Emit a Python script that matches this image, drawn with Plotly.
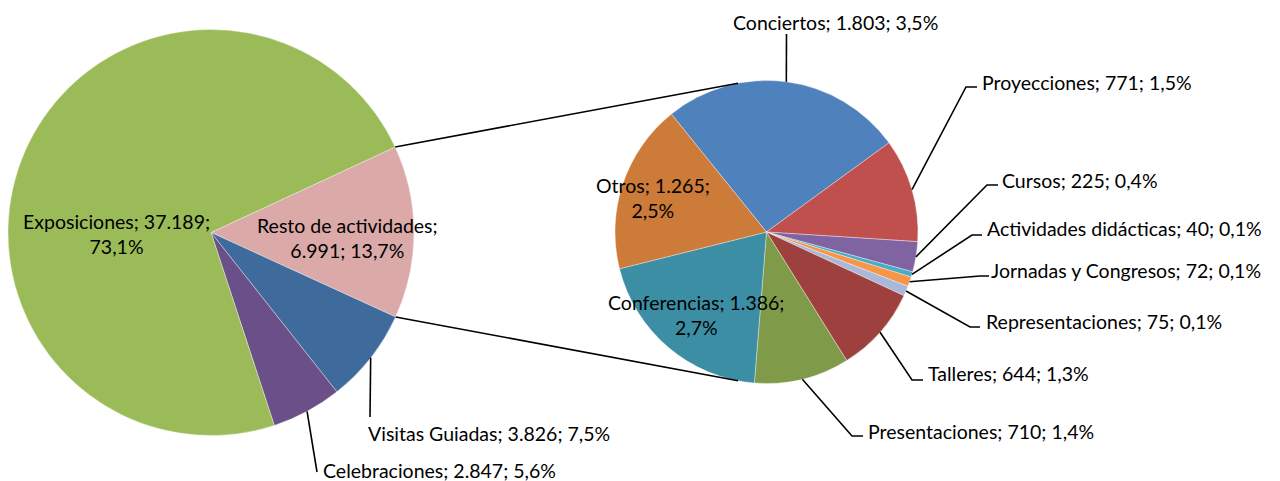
import math
import plotly.graph_objects as go

W, H = 1280, 481
OFF_X, OFF_Y = 8, 8  # page body margin in the browser

# ---------------- data ----------------
main_labels = ["Resto de actividades", "Visitas Guiadas", "Celebraciones", "Exposiciones"]
main_values = [6991, 3826, 2847, 37189]
main_pct = ["13,7%", "7,5%", "5,6%", "73,1%"]
main_colors = ["#DAA9A8", "#3E6A9C", "#6A4F89", "#9BBB59"]

sub_labels = ["Conciertos", "Proyecciones", "Cursos", "Actividades didácticas",
              "Jornadas y Congresos", "Representaciones", "Talleres",
              "Presentaciones", "Conferencias", "Otros"]
sub_values = [1803, 771, 225, 40, 72, 75, 644, 710, 1386, 1265]
sub_pct = ["3,5%", "1,5%", "0,4%", "0,1%", "0,1%", "0,1%", "1,3%", "1,4%", "2,7%", "2,5%"]
sub_colors = ["#4F81BD", "#C0504D", "#8064A2", "#4BACC6", "#F79646",
              "#A9B8D8", "#9E413E", "#7F9A48", "#3C8EA5", "#CC7B38"]

# ---------------- geometry (screen pixels) ----------------
L_CX, L_CY, L_R, L_ROT = 211, 232.5, 203, 65.1
R_CX, R_CY, R_R, R_ROT = 766.5, 232, 151.5, -38.9
CONNECT_OFF = 10.8  # degrees from vertical where connectors meet the second pie

FONT = "Lato"
FS = 19.5


def px(x, y):
    return (x - OFF_X) / W, 1 - (y - OFF_Y) / H


def domain(cx, cy, r):
    x0, y1 = px(cx - r, cy - r)
    x1, y0 = px(cx + r, cy + r)
    return dict(x=[x0, x1], y=[y0, y1])


def pt(cx, cy, r, ang):
    a = math.radians(ang)
    return cx + r * math.sin(a), cy - r * math.cos(a)


def slice_angles(values, rot):
    tot = sum(values)
    out = []
    cur = rot
    for v in values:
        span = v / tot * 360
        out.append((cur, cur + span, cur + span / 2))
        cur += span
    return out


def fmt(v):
    return f"{v:,}".replace(",", ".")


fig = go.Figure()
fig.add_trace(go.Pie(
    labels=main_labels, values=main_values, sort=False, direction="clockwise",
    rotation=L_ROT, textinfo="none", hoverinfo="label+value+percent",
    marker=dict(colors=main_colors, line=dict(color="rgba(255,255,255,0.6)", width=0.6)),
    domain=domain(L_CX, L_CY, L_R), showlegend=False,
))
fig.add_trace(go.Pie(
    labels=sub_labels, values=sub_values, sort=False, direction="clockwise",
    rotation=R_ROT, textinfo="none", hoverinfo="label+value+percent",
    marker=dict(colors=sub_colors, line=dict(color="rgba(255,255,255,0.6)", width=0.6)),
    domain=domain(R_CX, R_CY, R_R), showlegend=False,
))

shapes = []
annotations = []


def line_path(points):
    p = [px(x, y) for x, y in points]
    d = "M " + " L ".join(f"{x:.5f},{y:.5f}" for x, y in p)
    return dict(type="path", path=d, xref="paper", yref="paper",
                line=dict(color="black", width=1.6))


def add_text(text, x, y, anchor):
    xx, yy = px(x, y)
    annotations.append(dict(text=text, x=xx, y=yy, xref="paper", yref="paper",
                            xanchor=anchor, yanchor="middle", showarrow=False,
                            align="center", font=dict(family=FONT, size=FS, color="black")))


# connectors between pies
main_ang = slice_angles(main_values, L_ROT)
sub_ang = slice_angles(sub_values, R_ROT)
resto_start, resto_end, _ = main_ang[0]
shapes.append(line_path([pt(L_CX, L_CY, L_R, resto_start), pt(R_CX, R_CY, R_R, -CONNECT_OFF)]))
shapes.append(line_path([pt(L_CX, L_CY, L_R, resto_end), pt(R_CX, R_CY, R_R, 180 + CONNECT_OFF)]))

# label layout (screen pixel positions)
main_layout = {
    "Resto de actividades": dict(inside=(347, 238)),
    "Exposiciones": dict(inside=(116, 234)),
    "Visitas Guiadas": dict(path=[(370, 417)], text=(366, 433), anchor="left"),
    "Celebraciones": dict(path=[(317, 472)], text=(321, 470), anchor="left"),
}
sub_layout = {
    "Conciertos": dict(path=[(786.5, 34)], text=(835, 22), anchor="center"),
    "Proyecciones": dict(path=[(966, 87), (977, 87)], text=(980, 82), anchor="left"),
    "Cursos": dict(path=[(987, 185), (998, 185)], text=(1000, 181), anchor="left"),
    "Actividades didácticas": dict(path=[(972, 235), (982, 235)], text=(985, 229), anchor="left"),
    "Jornadas y Congresos": dict(path=[(980, 276), (989, 276)], text=(989, 270), anchor="left"),
    "Representaciones": dict(path=[(970, 327), (980, 327)], text=(984, 321), anchor="left"),
    "Talleres": dict(path=[(912, 380), (923, 380)], text=(926, 373), anchor="left"),
    "Presentaciones": dict(path=[(852, 436), (863, 436)], text=(866, 431), anchor="left"),
    "Conferencias": dict(inside=(696, 315)),
    "Otros": dict(inside=(653, 198)),
}


def place(labels, values, pcts, angs, layout, cx, cy, r, inside_breaks):
    for lab, v, p, (a0, a1, am) in zip(labels, values, pcts, angs):
        spec = layout[lab]
        if "inside" in spec:
            first, second = inside_breaks[lab]
            add_text(first + "<br>" + second, spec["inside"][0], spec["inside"][1], "center")
        else:
            start = pt(cx, cy, r, am)
            shapes.append(line_path([start] + spec["path"]))
            add_text(f"{lab}; {fmt(v)}; {p}", spec["text"][0], spec["text"][1], spec["anchor"])


main_breaks = {
    "Resto de actividades": ("Resto de actividades;", f"{fmt(main_values[0])}; {main_pct[0]}"),
    "Exposiciones": (f"Exposiciones; {fmt(main_values[3])};", main_pct[3]),
}
sub_breaks = {
    "Conferencias": (f"Conferencias; {fmt(sub_values[8])};", sub_pct[8]),
    "Otros": (f"Otros; {fmt(sub_values[9])};", sub_pct[9]),
}

place(main_labels, main_values, main_pct, main_ang, main_layout, L_CX, L_CY, L_R, main_breaks)
place(sub_labels, sub_values, sub_pct, sub_ang, sub_layout, R_CX, R_CY, R_R, sub_breaks)

fig.update_layout(
    width=W, height=H, margin=dict(l=0, r=0, t=0, b=0),
    paper_bgcolor="white", plot_bgcolor="white",
    shapes=shapes, annotations=annotations, showlegend=False,
    font=dict(family=FONT, size=FS),
)
fig.write_html("out.html")
